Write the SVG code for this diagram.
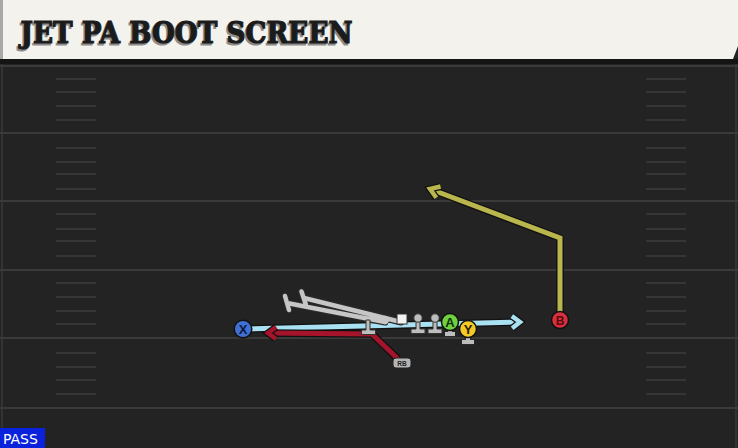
<svg xmlns="http://www.w3.org/2000/svg" width="738" height="448" viewBox="0 0 738 448">
<style>
.yard{stroke:#3a3a3a;stroke-width:2}
.hash{stroke:#353535;stroke-width:2}
.under{fill:none;stroke:#111;stroke-width:7.5;stroke-linejoin:round}
.ol{fill:#bdbdbd;stroke:#333;stroke-width:1}
.lbl{font-family:"Liberation Sans",Arial,sans-serif;font-weight:bold;text-anchor:middle}
.title{font-family:'DejaVu Serif','Liberation Serif',serif;font-weight:bold;font-size:29px}
</style>
<defs>
<marker id="chevBlue" markerUnits="userSpaceOnUse" markerWidth="24" markerHeight="24" viewBox="-12 -12 24 24" refX="0" refY="0" orient="auto" overflow="visible">
<path d="M-8,-6 L0,0 L-8,6" fill="none" stroke="#111" stroke-width="7"/>
<path d="M-8,-6 L0,0 L-8,6" fill="none" stroke="#a9e1f2" stroke-width="4.5"/>
</marker>
<marker id="chevRed" markerUnits="userSpaceOnUse" markerWidth="24" markerHeight="24" viewBox="-12 -12 24 24" refX="0" refY="0" orient="auto" overflow="visible">
<path d="M-8,-6 L0,0 L-8,6" fill="none" stroke="#111" stroke-width="7"/>
<path d="M-8,-6 L0,0 L-8,6" fill="none" stroke="#a5142b" stroke-width="4.5"/>
</marker>
<marker id="chevYel" markerUnits="userSpaceOnUse" markerWidth="24" markerHeight="24" viewBox="-12 -12 24 24" refX="0" refY="0" orient="auto" overflow="visible">
<path d="M-9,-6 L0,0 L-9,6" fill="none" stroke="#111" stroke-width="7"/>
<path d="M-9,-6 L0,0 L-9,6" fill="none" stroke="#b8b64c" stroke-width="4.5"/>
</marker>
</defs>
<rect width="738" height="448" fill="#232323"/>
<line x1="2" y1="60" x2="2" y2="448" stroke="#333" stroke-width="2"/>
<line x1="736" y1="60" x2="736" y2="448" stroke="#333" stroke-width="2"/>
<g id="field">
<line class="yard" x1="0" y1="66" x2="738" y2="66"/>
<line class="yard" x1="0" y1="133" x2="738" y2="133"/>
<line class="yard" x1="0" y1="201" x2="738" y2="201"/>
<line class="yard" x1="0" y1="270" x2="738" y2="270"/>
<line class="yard" x1="0" y1="338" x2="738" y2="338"/>
<line class="yard" x1="0" y1="408" x2="738" y2="408"/>
<path class="hash" d="M56,79H96M56,92H96M56,106H96M56,120H96M56,148H96M56,162H96M56,174H96M56,189H96M56,214H96M56,229H96M56,241H96M56,256H96M56,283H96M56,297H96M56,311H96M56,324H96M56,353H96M56,367H96M56,380H96M56,394H96"/>
<path class="hash" d="M646,79H686M646,92H686M646,106H686M646,120H686M646,148H686M646,162H686M646,174H686M646,189H686M646,214H686M646,229H686M646,241H686M646,256H686M646,283H686M646,297H686M646,311H686M646,324H686M646,353H686M646,367H686M646,380H686M646,394H686"/>
</g>
<g id="header">
<rect x="0" y="59" width="738" height="5" fill="#141414"/>
<path d="M0,0H738V46L733,59H0Z" fill="#f4f2ec"/>
<rect x="0" y="0" width="3" height="59" fill="#a8a8a8"/>
<text class="title" x="19" y="44.5" fill="#8c8c8c" stroke="#8c8c8c" stroke-width="1.2" textLength="332" lengthAdjust="spacingAndGlyphs">JET PA BOOT SCREEN</text>
<text class="title" x="20.5" y="43" fill="#1b1b1b" stroke="#1b1b1b" stroke-width="1.2" textLength="332" lengthAdjust="spacingAndGlyphs">JET PA BOOT SCREEN</text>
</g>
<g id="connectors">
<path class="under" d="M245,329 L520,322"/>
<path d="M245,329 L520,322" fill="none" stroke="#a9e1f2" stroke-width="5" marker-end="url(#chevBlue)"/>
<path class="under" d="M398,359 L372,334 L268,333"/>
<path d="M398,359 L372,334 L268,333" fill="none" stroke="#a5142b" stroke-width="5" stroke-linejoin="round" marker-end="url(#chevRed)"/>
<path class="under" d="M560,312 L560,238 L430,189"/>
<path d="M560,312 L560,238 L430,189" fill="none" stroke="#b8b64c" stroke-width="5" marker-end="url(#chevYel)"/>
<path d="M287,303 L385,322 M304,298 L401,322 M285,296 L289,310 M301.5,291.5 L306,305" fill="none" stroke="#2a2a2a" stroke-width="7" stroke-linecap="round"/>
<path d="M287,303 L385,322 M304,298 L401,322 M285,296 L289,310 M301.5,291.5 L306,305" fill="none" stroke="#c6c6c6" stroke-width="4.5" stroke-linecap="round"/>
<path d="M450,330 V334 M445,334 H455 M468,337 V342 M462,342 H474" fill="none" stroke="#2a2a2a" stroke-width="6"/>
<path d="M450,330 V334 M445,334 H455 M468,337 V342 M462,342 H474" fill="none" stroke="#bdbdbd" stroke-width="4"/>
</g>
<g id="LT">
<path class="ol" d="M366,320 h4 v10 h5.5 v4.5 h-14 v-4.5 h4.5 z"/>
</g>
<g id="LG">
<circle cx="385" cy="320" r="4.2" fill="#c6c6c6"/>
</g>
<g id="C">
<rect x="397" y="314" width="10" height="10" fill="#f2f2f2" stroke="#333" stroke-width="1"/>
</g>
<g id="RG">
<path class="ol" d="M416,318 h4 v11 h5 v4.5 h-14 v-4.5 h5 z"/>
<circle cx="418" cy="318" r="4.2" fill="#bdbdbd" stroke="#333" stroke-width="1"/>
</g>
<g id="RT">
<path class="ol" d="M433,318 h4 v11 h5 v4.5 h-14 v-4.5 h5 z"/>
<circle cx="435" cy="318" r="4.2" fill="#bdbdbd" stroke="#333" stroke-width="1"/>
</g>
<g id="X">
<circle cx="243" cy="329" r="8.8" fill="#3f70d4" stroke="#111" stroke-width="1.5"/>
<text class="lbl" x="243" y="333.5" font-size="13" fill="#0d1a3a">X</text>
</g>
<g id="A">
<circle cx="450" cy="322" r="8.5" fill="#6fd13e" stroke="#111" stroke-width="1.5"/>
<text class="lbl" x="450" y="326.5" font-size="13" fill="#123010">A</text>
</g>
<g id="Y">
<circle cx="468" cy="329" r="8.5" fill="#f3c928" stroke="#111" stroke-width="1.5"/>
<text class="lbl" x="468" y="333.5" font-size="13" fill="#2a2000">Y</text>
</g>
<g id="B">
<circle cx="560" cy="320" r="8.5" fill="#d8303e" stroke="#111" stroke-width="1.5"/>
<text class="lbl" x="560" y="324.5" font-size="12" fill="#5a0a10">B</text>
</g>
<g id="RB">
<rect x="393" y="358" width="18" height="10" rx="3" fill="#b4b4b4" stroke="#222" stroke-width="1"/>
<text class="lbl" x="402" y="365.5" font-size="6.5" fill="#222">RB</text>
</g>
<g id="pass">
<rect x="0" y="428" width="45" height="20" fill="#0b22dc"/>
<text x="3" y="444" font-family="'DejaVu Sans','Liberation Sans',sans-serif" font-size="14" fill="#ffffff">PASS</text>
</g>
</svg>
